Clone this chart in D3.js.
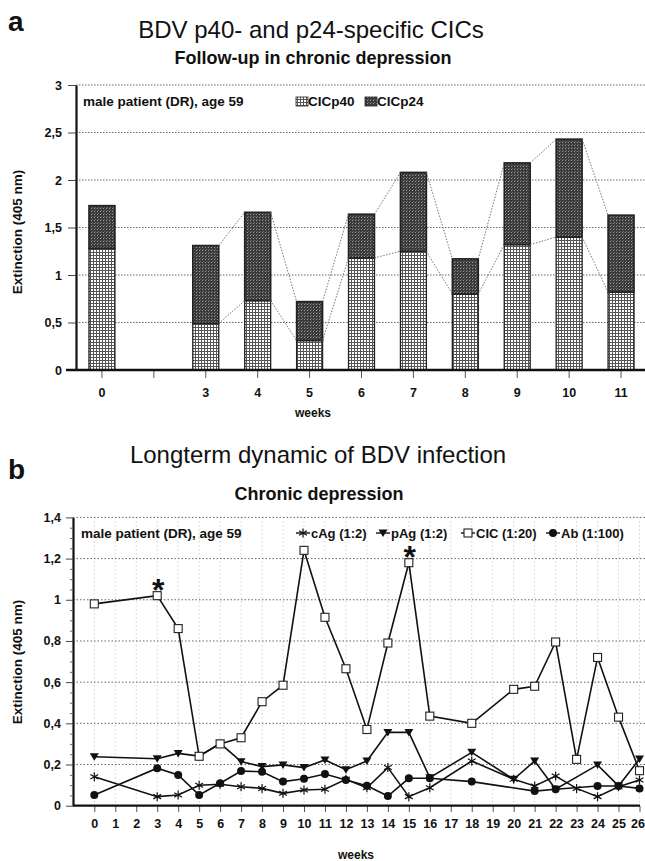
<!DOCTYPE html>
<html><head><meta charset="utf-8">
<script src="https://cdn.jsdelivr.net/npm/d3@7"></script>
<style>
body{margin:0;background:#fff}
text{font-family:"Liberation Sans",Arial,Helvetica,sans-serif;fill:#111}
</style>
</head><body>
<svg id="c" width="645" height="861"></svg>
<script>
// ---------- Panel a data ----------
const weeksA = ["0", "", "3", "4", "5", "6", "7", "8", "9", "10", "11"];
const cicP40 = [1.28, null, 0.49, 0.73, 0.31, 1.18, 1.25, 0.80, 1.32, 1.40, 0.82];
const cicP24 = [0.45, null, 0.82, 0.93, 0.41, 0.46, 0.83, 0.37, 0.86, 1.03, 0.81];
const yTicksA = [0, 0.5, 1, 1.5, 2, 2.5, 3];

// ---------- Panel b data ----------
const weeksB = d3.range(0, 27);
const yTicksB = [0, 0.2, 0.4, 0.6, 0.8, 1, 1.2, 1.4];
const cicWeeks = [0, 3, 4, 5, 6, 7, 8, 9, 10, 11, 12, 13, 14, 15, 16, 18, 20, 21, 22, 23, 24, 25, 26];
const cicVals  = [0.98, 1.02, 0.86, 0.24, 0.30, 0.33, 0.505, 0.585, 1.24, 0.915, 0.665, 0.37, 0.79, 1.18, 0.435, 0.40, 0.565, 0.58, 0.795, 0.225, 0.72, 0.43, 0.17];
const pAgWeeks = [0, 3, 4, 5, 6, 7, 8, 9, 10, 11, 12, 13, 14, 15, 16, 18, 20, 21, 22, 24, 25, 26];
const pAgVals  = [0.238, 0.228, 0.254, 0.241, 0.303, 0.214, 0.19, 0.198, 0.185, 0.222, 0.175, 0.217, 0.356, 0.356, 0.136, 0.259, 0.128, 0.217, 0.08, 0.198, 0.096, 0.227];
const cAgWeeks = [0, 3, 4, 5, 6, 7, 8, 9, 10, 11, 12, 13, 14, 15, 16, 18, 20, 21, 22, 23, 24, 25, 26];
const cAgVals  = [0.141, 0.044, 0.052, 0.099, 0.104, 0.092, 0.084, 0.06, 0.076, 0.08, 0.128, 0.087, 0.185, 0.044, 0.087, 0.217, 0.128, 0.096, 0.144, 0.084, 0.044, 0.092, 0.125];
const abWeeks  = [0, 3, 4, 5, 6, 7, 8, 9, 10, 11, 12, 13, 14, 15, 16, 18, 21, 22, 24, 25, 26];
const abVals   = [0.052, 0.182, 0.149, 0.052, 0.109, 0.168, 0.165, 0.117, 0.131, 0.154, 0.125, 0.097, 0.047, 0.133, 0.133, 0.117, 0.071, 0.08, 0.096, 0.096, 0.084];
const starWeeks = [3, 15];

const fmt = v => String(v).replace(".", ",");
const svg = d3.select("#c");

// ---------- patterns ----------
const defs = svg.append("defs");
const p40 = defs.append("pattern").attr("id", "p40").attr("patternUnits", "userSpaceOnUse").attr("width", 3).attr("height", 3);
p40.append("rect").attr("width", 3).attr("height", 3).attr("fill", "#fff");
p40.append("rect").attr("width", 3).attr("height", 1).attr("fill", "#555");
p40.append("rect").attr("width", 1).attr("height", 3).attr("fill", "#555");
const p24 = defs.append("pattern").attr("id", "p24").attr("patternUnits", "userSpaceOnUse").attr("width", 3).attr("height", 3);
p24.append("rect").attr("width", 3).attr("height", 3).attr("fill", "#3a3a3a");
p24.append("rect").attr("x", 1).attr("y", 1).attr("width", 1).attr("height", 1).attr("fill", "#9a9a9a");
p24.append("rect").attr("x", 2).attr("y", 0).attr("width", 1).attr("height", 1).attr("fill", "#6a6a6a");

// ================= PANEL A =================
svg.append("text").attr("x", 8).attr("y", 31).attr("font-size", 28).attr("font-weight", "bold").text("a");
svg.append("text").attr("x", 311).attr("y", 38).attr("text-anchor", "middle").attr("font-size", 24).text("BDV p40- and p24-specific CICs");
svg.append("text").attr("x", 313).attr("y", 64).attr("text-anchor", "middle").attr("font-size", 18).attr("font-weight", "bold").text("Follow-up in chronic depression");

const xA = d3.scaleBand().domain(d3.range(weeksA.length)).range([76, 647]).paddingInner(0.5).paddingOuter(0.25);
const yA = d3.scaleLinear().domain([0, 3]).range([370, 85]);

const gA = svg.append("g");
// grid
gA.append("g").selectAll("line").data(yTicksA.filter(d => d > 0)).join("line")
  .attr("x1", 76).attr("x2", 645).attr("y1", d => yA(d)).attr("y2", d => yA(d))
  .attr("stroke", "#555").attr("stroke-width", 0.9).attr("stroke-dasharray", "1.5,1.5");

// stacked bars
const stackA = weeksA.map((w, i) => ({i, p40: cicP40[i], p24: cicP24[i]})).filter(d => d.p40 !== null);
gA.append("g").selectAll("rect").data(stackA).join("rect")
  .attr("x", d => xA(d.i)).attr("width", xA.bandwidth())
  .attr("y", d => yA(d.p40)).attr("height", d => yA(0) - yA(d.p40))
  .attr("fill", "url(#p40)").attr("stroke", "#222").attr("stroke-width", 1.3);
gA.append("g").selectAll("rect").data(stackA).join("rect")
  .attr("x", d => xA(d.i)).attr("width", xA.bandwidth())
  .attr("y", d => yA(d.p40 + d.p24)).attr("height", d => yA(d.p40) - yA(d.p40 + d.p24))
  .attr("fill", "url(#p24)").attr("stroke", "#222").attr("stroke-width", 1.6);

// series connector lines
const conn = [];
for (let k = 0; k < weeksA.length - 1; k++) {
  if (cicP40[k] === null || cicP40[k + 1] === null || k === 0) continue;
  conn.push({x1: xA(k) + xA.bandwidth(), x2: xA(k + 1), y1: yA(cicP40[k]), y2: yA(cicP40[k + 1])});
  conn.push({x1: xA(k) + xA.bandwidth(), x2: xA(k + 1), y1: yA(cicP40[k] + cicP24[k]), y2: yA(cicP40[k + 1] + cicP24[k + 1])});
}
gA.append("g").selectAll("line").data(conn).join("line")
  .attr("x1", d => d.x1).attr("x2", d => d.x2).attr("y1", d => d.y1).attr("y2", d => d.y2)
  .attr("stroke", "#666").attr("stroke-width", 0.9).attr("stroke-dasharray", "1.5,1.5");

// axes
const axYA = gA.append("g").attr("transform", "translate(76,0)")
  .call(d3.axisLeft(yA).tickValues(yTicksA).tickFormat(fmt).tickSize(8).tickSizeOuter(0).tickPadding(6));
axYA.select(".domain").attr("stroke", "#111").attr("stroke-width", 2.2);
axYA.selectAll(".tick line").attr("stroke", "#444");
axYA.selectAll(".tick text").attr("font-size", 12.5).attr("font-weight", "bold").attr("font-family", "Liberation Sans, Arial, sans-serif").attr("fill", "#111");

const axXA = gA.append("g").attr("transform", "translate(0,370)")
  .call(d3.axisBottom(xA).tickFormat(i => weeksA[i]).tickSize(8).tickSizeOuter(0).tickPadding(10));
axXA.select(".domain").remove();
axXA.selectAll(".tick line").attr("stroke", "#555");
axXA.selectAll(".tick text").attr("font-size", 12.5).attr("font-weight", "bold").attr("font-family", "Liberation Sans, Arial, sans-serif").attr("fill", "#111");
gA.append("line").attr("x1", 66).attr("x2", 645).attr("y1", 370).attr("y2", 370).attr("stroke", "#111").attr("stroke-width", 2.4);

svg.append("text").attr("transform", "translate(22,232) rotate(-90)").attr("text-anchor", "middle")
  .attr("font-size", 13.5).attr("font-weight", "bold").text("Extinction (405 nm)");
svg.append("text").attr("x", 313).attr("y", 417).attr("text-anchor", "middle").attr("font-size", 12).attr("font-weight", "bold").text("weeks");

// legend a
svg.append("text").attr("x", 83).attr("y", 106).attr("font-size", 13.5).attr("font-weight", "bold").text("male patient (DR), age 59");
const legA = [{f: "url(#p40)", t: "CICp40", x: 296}, {f: "url(#p24)", t: "CICp24", x: 365}];
const lg = svg.append("g").selectAll("g").data(legA).join("g");
lg.append("rect").attr("x", d => d.x).attr("y", 97).attr("width", 12).attr("height", 9).attr("fill", d => d.f).attr("stroke", "#222").attr("stroke-width", 0.8);
lg.append("text").attr("x", d => d.x + 12).attr("y", 106).attr("font-size", 13.5).attr("font-weight", "bold").text(d => d.t);

// ================= PANEL B =================
svg.append("text").attr("x", 8).attr("y", 479).attr("font-size", 28).attr("font-weight", "bold").text("b");
svg.append("text").attr("x", 318).attr("y", 463).attr("text-anchor", "middle").attr("font-size", 24).text("Longterm dynamic of BDV infection");
svg.append("text").attr("x", 319).attr("y", 500).attr("text-anchor", "middle").attr("font-size", 18).attr("font-weight", "bold").text("Chronic depression");

const xB = d3.scaleLinear().domain([0, 26]).range([94.3, 639.5]);
const yB = d3.scaleLinear().domain([0, 1.4]).range([805.7, 517.4]);
const gB = svg.append("g");

// grid
gB.append("g").selectAll("line").data(weeksB).join("line")
  .attr("x1", d => xB(d)).attr("x2", d => xB(d)).attr("y1", yB(1.4)).attr("y2", yB(0))
  .attr("stroke", "#aaa").attr("stroke-width", 0.8).attr("stroke-dasharray", "1,3");
gB.append("g").selectAll("line").data(yTicksB.filter(d => d > 0)).join("line")
  .attr("x1", 73).attr("x2", 645).attr("y1", d => yB(d)).attr("y2", d => yB(d))
  .attr("stroke", "#555").attr("stroke-width", 0.9).attr("stroke-dasharray", "1.5,2");

// axes
const axYB = gB.append("g").attr("transform", "translate(73,0)")
  .call(d3.axisLeft(yB).tickValues(yTicksB).tickFormat(fmt).tickSize(7).tickSizeOuter(0).tickPadding(5));
axYB.select(".domain").attr("stroke", "#111").attr("stroke-width", 2.2);
axYB.selectAll(".tick line").attr("stroke", "#444");
axYB.selectAll(".tick text").attr("font-size", 12.5).attr("font-weight", "bold").attr("font-family", "Liberation Sans, Arial, sans-serif").attr("fill", "#111");
gB.append("g").attr("transform", "translate(73,0)")
  .call(d3.axisLeft(yB).tickValues(d3.range(0, 1.401, 0.05).filter(v => Math.abs(v * 5 - Math.round(v * 5)) > 1e-6)).tickFormat("").tickSize(3).tickSizeOuter(0))
  .call(g => g.select(".domain").remove()).selectAll("line").attr("stroke", "#666");

const axXB = gB.append("g").attr("transform", "translate(0,806)")
  .call(d3.axisBottom(xB).tickValues(weeksB).tickFormat(d3.format("d")).tickSize(6).tickSizeOuter(0).tickPadding(7));
axXB.select(".domain").remove();
axXB.selectAll(".tick line").attr("stroke", "#555");
axXB.selectAll(".tick text").attr("font-size", 12.5).attr("font-weight", "bold").attr("font-family", "Liberation Sans, Arial, sans-serif").attr("fill", "#111");
axXB.selectAll(".tick text").filter(d => d === 26).attr("text-anchor", "end").attr("dx", 5);
gB.append("line").attr("x1", 73).attr("x2", 640).attr("y1", 805.7).attr("y2", 805.7).attr("stroke", "#111").attr("stroke-width", 2.2);

svg.append("text").attr("transform", "translate(22,662) rotate(-90)").attr("text-anchor", "middle")
  .attr("font-size", 13.5).attr("font-weight", "bold").text("Extinction (405 nm)");
svg.append("text").attr("x", 356).attr("y", 859).attr("text-anchor", "middle").attr("font-size", 12).attr("font-weight", "bold").text("weeks");

// series
const lineB = d3.line().x(d => xB(d[0])).y(d => yB(d[1]));
const series = [
  {name: "cAg (1:2)", w: cAgWeeks, v: cAgVals, m: "star"},
  {name: "pAg (1:2)", w: pAgWeeks, v: pAgVals, m: "tri"},
  {name: "CIC (1:20)", w: cicWeeks, v: cicVals, m: "sq"},
  {name: "Ab (1:100)", w: abWeeks, v: abVals, m: "dot"}
];
function marker(g, type) {
  if (type === "star") {
    const r = 4.5, a = r * 0.87, b = r * 0.5;
    g.append("path").attr("d", `M0,${-r}V${r}M${-a},${-b}L${a},${b}M${-a},${b}L${a},${-b}`).attr("stroke", "#111").attr("stroke-width", 1.2).attr("fill", "none");
  } else if (type === "tri") {
    g.append("path").attr("d", "M-4.5,-3.5L4.5,-3.5L0,4Z").attr("fill", "#111");
  } else if (type === "sq") {
    g.append("rect").attr("x", -4).attr("y", -4).attr("width", 8).attr("height", 8).attr("fill", "#fff").attr("stroke", "#222").attr("stroke-width", 1.1);
  } else {
    g.append("circle").attr("r", 4).attr("fill", "#111");
  }
}
series.forEach(s => {
  const pts = s.w.map((w, i) => [w, s.v[i]]);
  gB.append("path").datum(pts).attr("d", lineB).attr("fill", "none").attr("stroke", "#111").attr("stroke-width", 1.6);
});
series.forEach(s => {
  const pts = s.w.map((w, i) => [w, s.v[i]]);
  gB.append("g").selectAll("g").data(pts).join("g")
    .attr("transform", d => `translate(${xB(d[0])},${yB(d[1])})`)
    .each(function () { marker(d3.select(this), s.m); });
});

// stars
svg.append("g").selectAll("text").data(starWeeks).join("text")
  .attr("x", d => xB(d) + 1).attr("y", d => yB(cicVals[cicWeeks.indexOf(d)]) + 5)
  .attr("text-anchor", "middle").attr("font-size", 32).attr("font-weight", "bold").text("*");

// legend b
svg.append("text").attr("x", 81).attr("y", 538).attr("font-size", 13.5).attr("font-weight", "bold").text("male patient (DR), age 59");
const legB = [{x: 303, t: "cAg (1:2)", m: "star"}, {x: 383, t: "pAg (1:2)", m: "tri"}, {x: 468, t: "CIC (1:20)", m: "sq"}, {x: 553, t: "Ab (1:100)", m: "dot"}];
const lb = svg.append("g").selectAll("g").data(legB).join("g").attr("transform", d => `translate(${d.x},533)`);
lb.append("line").attr("x1", -7).attr("x2", 7).attr("stroke", "#111").attr("stroke-width", 1.4);
lb.each(function (d) { marker(d3.select(this), d.m); });
lb.append("text").attr("x", 8).attr("y", 5).attr("font-size", 13).attr("font-weight", "bold").text(d => d.t);
</script>
</body></html>
